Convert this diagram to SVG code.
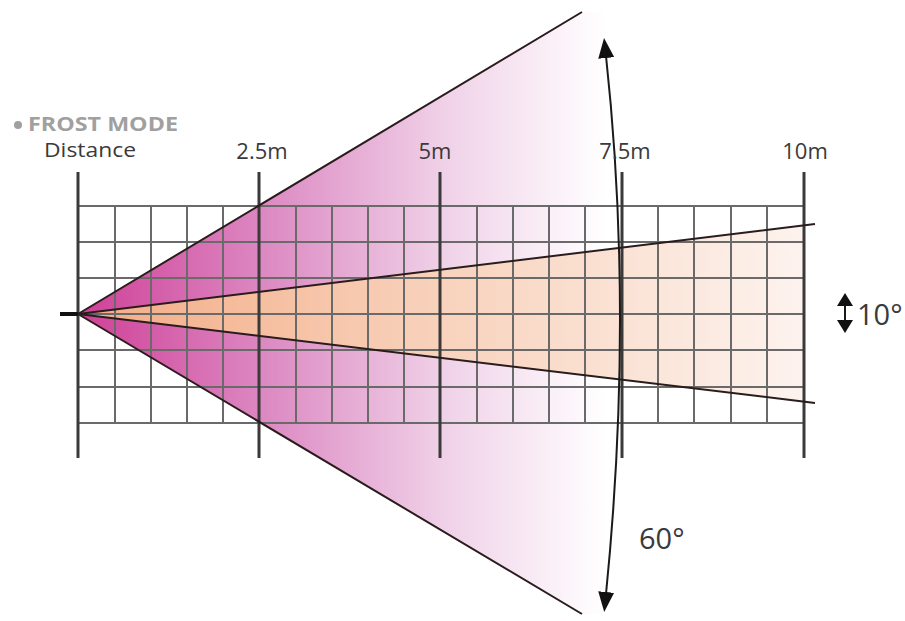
<svg xmlns="http://www.w3.org/2000/svg" width="905" height="621" viewBox="0 0 905 621">
<style>
.lbl{font-family:"Open Sans","Noto Sans",sans-serif;fill:#3a3a3a;font-size:22px}
.frost{font-family:"Open Sans","Noto Sans",sans-serif;fill:#a0a0a0;font-size:19px;font-weight:bold}
.minor{stroke:#6a6a6a;stroke-width:2;fill:none}
.major{stroke:#3a3a3a;stroke-width:3;fill:none}
.edge{stroke:#2a1c1c;stroke-width:2;fill:none}
.arr{stroke:#1a1a1a;stroke-width:2;fill:none}
</style>
<defs>
<linearGradient id="gMag" gradientUnits="userSpaceOnUse" x1="78" y1="0" x2="605" y2="0">
<stop offset="0" stop-color="#cf3f97"/>
<stop offset="0.35" stop-color="#dc88c2"/>
<stop offset="0.7" stop-color="#f0d2e8"/>
<stop offset="1" stop-color="#ffffff"/>
</linearGradient>
<linearGradient id="gPeach" gradientUnits="userSpaceOnUse" x1="78" y1="0" x2="804" y2="0">
<stop offset="0" stop-color="#f3ab84"/>
<stop offset="0.5" stop-color="#f8d2bc"/>
<stop offset="1" stop-color="#fdf3ee"/>
</linearGradient>
<marker id="arrow" markerUnits="userSpaceOnUse" markerWidth="20" markerHeight="16" viewBox="0 0 20 16" refX="2" refY="8" orient="auto-start-reverse">
<path d="M0,0 L20,8 L0,16 z" fill="#111"/>
</marker>
<marker id="arrowS" markerUnits="userSpaceOnUse" markerWidth="13" markerHeight="16" viewBox="0 0 13 16" refX="1" refY="8" orient="auto-start-reverse">
<path d="M0,0 L13,8 L0,16 z" fill="#111"/>
</marker>
</defs>
<rect width="905" height="621" fill="#ffffff"/>

<g id="cone60-fill">
<polygon points="78,314 582,12 612,12 612,614 582,614" fill="url(#gMag)"/>
</g>
<g id="cone10-fill">
<polygon points="78,314 804,225.3 804,401.7" fill="url(#gPeach)"/>
</g>

<g id="grid">
<g class="minor">
<path d="M78,206H804M78,242H804M78,278H804M78,314H804M78,350H804M78,387H804M78,423H804"/>
<path d="M115,206V423M151,206V423M187,206V423M223,206V423M296,206V423M332,206V423M368,206V423M404,206V423M477,206V423M513,206V423M549,206V423M585,206V423M658,206V423M694,206V423M731,206V423M767,206V423"/>
</g>
<g class="major">
<path d="M78,172V458M259,172V458M440,172V458M622,172V458M804,172V458"/>
</g>
<path d="M60,314H78" stroke="#111" stroke-width="4"/>
</g>

<g id="connectors">
<path class="edge" d="M78,314L582,12M78,314L582,614"/>
<path class="edge" d="M78,314L815,224M78,314L815,403"/>
<path class="arr" d="M606,56Q634,314 606,594" marker-start="url(#arrow)" marker-end="url(#arrow)"/>
<path class="arr" d="M845,305V321" stroke-width="3" marker-start="url(#arrowS)" marker-end="url(#arrowS)"/>
</g>

<g id="labels">
<circle cx="18" cy="125" r="4" fill="#a0a0a0"/>
<text class="frost" x="28" y="131" textLength="150" lengthAdjust="spacingAndGlyphs">FROST MODE</text>
<text class="lbl" x="44" y="157" style="font-size:20px" textLength="92" lengthAdjust="spacingAndGlyphs">Distance</text>
<text class="lbl" x="262" y="159" text-anchor="middle">2.5m</text>
<text class="lbl" x="435" y="159" text-anchor="middle">5m</text>
<text class="lbl" x="625" y="159" text-anchor="middle">7.5m</text>
<text class="lbl" x="805" y="159" text-anchor="middle">10m</text>
<text class="lbl" x="857" y="325" style="font-size:29px">10°</text>
<text class="lbl" x="639" y="549" style="font-size:29px">60°</text>
</g>
</svg>
